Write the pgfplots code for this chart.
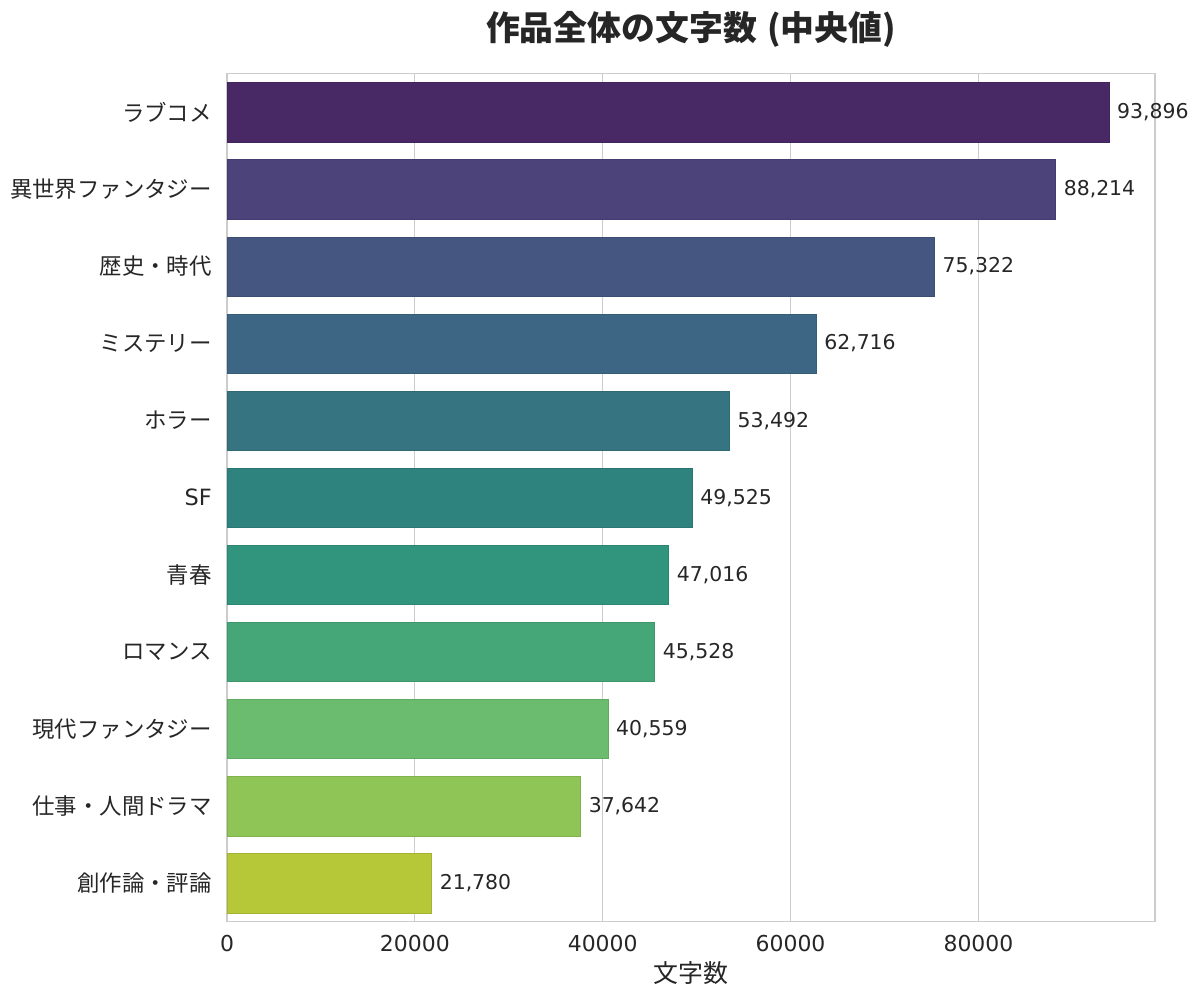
\documentclass[border=0pt]{standalone}
\usepackage{fontspec}
\setmainfont{DejaVu Sans}
\newfontfamily\cjk{Noto Sans CJK JP}
\usepackage{pgfplots}
\pgfplotsset{compat=1.18}
\definecolor{c1}{RGB}{72,41,102}
\definecolor{c2}{RGB}{75,67,122}
\definecolor{c3}{RGB}{69,86,129}
\definecolor{c4}{RGB}{61,102,132}
\definecolor{c5}{RGB}{53,116,128}
\definecolor{c6}{RGB}{47,131,127}
\definecolor{c7}{RGB}{49,148,125}
\definecolor{c8}{RGB}{69,167,120}
\definecolor{c9}{RGB}{107,188,110}
\definecolor{c10}{RGB}{143,196,86}
\definecolor{c11}{RGB}{182,200,56}
\definecolor{gridgray}{RGB}{204,204,204}
\definecolor{textgray}{RGB}{38,38,38}
\begin{document}
\begin{tikzpicture}
\begin{axis}[
  scale only axis, width=928bp, height=848bp,
  xbar, bar width=0.77,
  every axis plot/.append style={bar shift=0pt},
  xmin=0, xmax=98800, ymin=-0.5, ymax=10.5, y dir=reverse,
  ytick={0,...,10},
  yticklabels={{\cjk ラブコメ},{\cjk 異世界ファンタジー},{\cjk 歴史・時代},{\cjk ミステリー},{\cjk ホラー},{SF},{\cjk 青春},{\cjk ロマンス},{\cjk 現代ファンタジー},{\cjk 仕事・人間ドラマ},{\cjk 創作論・評論}},
  xtick={0,20000,40000,60000,80000},
  scaled x ticks=false,
  /pgf/number format/assume math mode=true,
  xticklabel style={/pgf/number format/1000 sep={}, anchor=north, inner sep=0pt, yshift=-13bp, font=\fontsize{22}{26}\selectfont, text=textgray},
  yticklabel style={anchor=east, inner sep=0pt, xshift=-15bp, font=\fontsize{22.5}{27}\selectfont, text=textgray},
  xmajorgrids, ymajorgrids=false,
  grid style={color=gridgray, line width=1.2bp},
  axis line style={color=gridgray, line width=1.2bp},
  major tick length=0pt, tick style={draw=none},
  xlabel={\cjk 文字数},
  xlabel style={at={(axis description cs:0.5,0)}, anchor=center, yshift=-51bp, font=\fontsize{25}{30}\selectfont, text=textgray},
  title={\cjk\bfseries 作品全体の文字数\hspace{0.3em}(中央値)},
  title style={at={(axis description cs:0.5,1)}, anchor=center, yshift=38bp, font=\fontsize{34}{40}\selectfont, text=textgray},
  nodes near coords, point meta=x,
  nodes near coords style={anchor=west, inner sep=0pt, xshift=8bp, font=\fontsize{20.5}{25}\selectfont, text=textgray, /pgf/number format/fixed, /pgf/number format/precision=0, /pgf/number format/1000 sep={,}},
]
\addplot[fill=c1, draw=c1!90!black, line width=0.4bp] coordinates {(93896,0)};
\addplot[fill=c2, draw=c2!90!black, line width=0.4bp] coordinates {(88214,1)};
\addplot[fill=c3, draw=c3!90!black, line width=0.4bp] coordinates {(75322,2)};
\addplot[fill=c4, draw=c4!90!black, line width=0.4bp] coordinates {(62716,3)};
\addplot[fill=c5, draw=c5!90!black, line width=0.4bp] coordinates {(53492,4)};
\addplot[fill=c6, draw=c6!90!black, line width=0.4bp] coordinates {(49525,5)};
\addplot[fill=c7, draw=c7!90!black, line width=0.4bp] coordinates {(47016,6)};
\addplot[fill=c8, draw=c8!90!black, line width=0.4bp] coordinates {(45528,7)};
\addplot[fill=c9, draw=c9!90!black, line width=0.4bp] coordinates {(40559,8)};
\addplot[fill=c10, draw=c10!90!black, line width=0.4bp] coordinates {(37642,9)};
\addplot[fill=c11, draw=c11!90!black, line width=0.4bp] coordinates {(21780,10)};
\end{axis}
\pgfresetboundingbox
\useasboundingbox (-227bp,-76.3bp) rectangle (973bp,921.7bp);
\end{tikzpicture}
\end{document}
